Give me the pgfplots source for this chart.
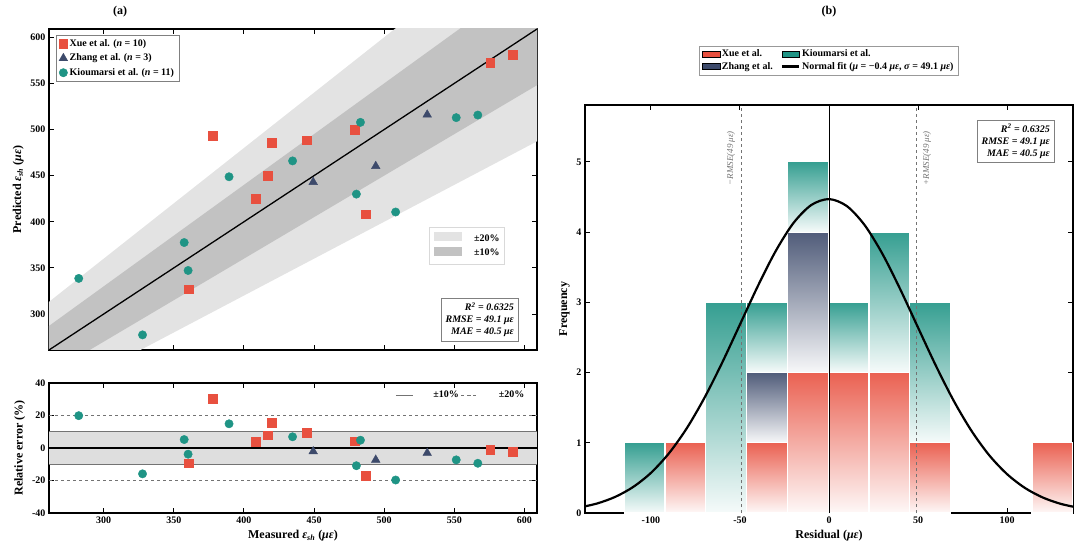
\documentclass[border=0pt]{standalone}
\usepackage{pgfplots}
\pgfplotsset{compat=1.18}
\usepackage{fontspec}
\setmainfont{Liberation Serif}
\definecolor{cx}{HTML}{E8503F}
\definecolor{cz}{HTML}{3D4A6B}
\definecolor{ck}{HTML}{1F9485}
\newcommand{\gbar}[5]{\addplot[draw=white, line width=1.2pt, top color=#5!90, bottom color=#5!4, forget plot] coordinates {(#1,#3) (#1,#4) (#2,#4) (#2,#3)} -- cycle;}
\pgfplotsset{base/.style={scale only axis, axis line style={line width=1.3pt}, tick align=inside,
  major tick length=5pt, tick style={black, line width=1pt}, ticklabel style={font=\fontsize{10}{12}\selectfont\bfseries},
  /pgf/number format/assume math mode=true, label style={font=\fontsize{12}{14}\selectfont\bfseries}}}
\begin{document}
\begin{tikzpicture}
\path (0pt,0pt) rectangle (1080pt,555pt);
\node[font=\fontsize{12}{14}\selectfont\bfseries] at (120pt,543pt) {(a)};
\node[font=\fontsize{12}{14}\selectfont\bfseries] at (829pt,543pt) {(b)};
% top-left
\begin{axis}[base, at={(49pt,205pt)}, anchor=south west, width=488pt, height=321pt, xmin=261, xmax=609, ymin=261, ymax=609,
  xtick={300,350,...,600}, xticklabels={}, ytick={300,350,...,600},
  ylabel={Predicted \textit{ε}\textsubscript{\textit{sh}} (\textit{με})},
  legend style={at={(0.014,0.98)}, anchor=north west, draw=gray, font=\fontsize{10}{12}\selectfont\bfseries, row sep=2pt, cells={anchor=west}}]
\addplot[draw=none, fill=black!11, forget plot] coordinates {(261,208.8) (609,487.2) (609,730.8) (261,313.2)} -- cycle;
\addplot[draw=none, fill=black!24, forget plot] coordinates {(261,234.9) (609,548.1) (609,669.9) (261,287.1)} -- cycle;
\addplot[black, line width=1.3pt, forget plot] coordinates {(261,261) (609,609)};
\addplot[only marks, mark=square*, mark size=4.3pt, color=cx] coordinates {
(591.7,581.3) (575.6,572.6) (479,499.9) (444.7,488.4) (419.8,485.5) (377.8,493.4) (416.9,450.2) (408.6,425.3) (486.9,408.1) (360.7,327.0)};
\addplot[only marks, mark=triangle*, mark size=5pt, color=cz] coordinates {(449.4,443.0) (494,460.3) (530.7,516.1)};
\addplot[only marks, mark=*, mark size=4.2pt, color=ck] coordinates {
(282.2,338.6) (327.7,277.4) (357.4,377.5) (360.2,347.2) (389.4,448.8) (434.7,466.0) (480.2,430.0) (483.1,507.8) (508.2,410.6) (551.4,512.9) (566.8,515.7)};
\legend{Xue et al. (\textit{n} = 10), Zhang et al. (\textit{n} = 3), Kioumarsi et al. (\textit{n} = 11)}
\node[draw=black!15, fill=white, anchor=north east, inner sep=5pt, font=\fontsize{10}{12}\selectfont\bfseries] at (rel axis cs:0.934,0.383)
 {\begin{tabular}{@{}l@{\hspace{12pt}}l@{}}\textcolor{black!11}{\rule{28pt}{9pt}} & ±20\%\\[2pt] \textcolor{black!24}{\rule{28pt}{9pt}} & ±10\%\end{tabular}};
\node[draw=gray, fill=white, anchor=south east, align=right, font=\fontsize{10}{12}\selectfont\bfseries\itshape, inner sep=4pt] at (rel axis cs:0.961,0.028)
 {R\textsuperscript{2} = 0.6325\\RMSE = 49.1 με\\MAE = 40.5 με};
\end{axis}
% bottom-left
\begin{axis}[base, at={(49pt,42pt)}, anchor=south west, width=488pt, height=130pt, xmin=261, xmax=609, ymin=-40, ymax=40,
  xtick={300,350,...,600}, ytick={-40,-20,...,40},
  xlabel={Measured \textit{ε}\textsubscript{\textit{sh}} (\textit{με})},
  ylabel={Relative error (\%)},
  legend columns=2, legend style={at={(0.985,0.97)}, anchor=north east, draw=none, fill=none, font=\fontsize{10}{12}\selectfont\bfseries, /tikz/every odd column/.append style={column sep=18pt}}]
\addplot[draw=none, fill=black!13, forget plot] coordinates {(261,-10) (609,-10) (609,10) (261,10)} -- cycle;
\addplot[black!55, line width=1pt] coordinates {(261,10) (609,10)};
\addplot[black!55, line width=1pt, dashed, forget plot] coordinates {(261,-20) (609,-20)};
\addplot[black!55, line width=1pt, dashed] coordinates {(261,20) (609,20)};
\addplot[black!55, line width=1pt, forget plot] coordinates {(261,-10) (609,-10)};
\addplot[black, line width=1.3pt, forget plot] coordinates {(261,0) (609,0)};
\addplot[only marks, mark=square*, mark size=4.3pt, color=cx, forget plot] coordinates {
(591.7,-2.3) (575.6,-1.0) (479,4.2) (444.7,9.6) (419.8,15.7) (377.8,30.4) (416.9,7.8) (408.6,4.0) (486.9,-17.0) (360.7,-9.4)};
\addplot[only marks, mark=triangle*, mark size=5pt, color=cz, forget plot] coordinates {(449.4,-2.1) (494,-7.3) (530.7,-3.1)};
\addplot[only marks, mark=*, mark size=4.2pt, color=ck, forget plot] coordinates {
(282.2,19.9) (327.7,-15.9) (357.4,5.2) (360.2,-3.8) (389.4,14.9) (434.7,6.9) (480.2,-10.9) (483.1,4.8) (508.2,-19.7) (551.4,-7.3) (566.8,-9.4)};
\legend{±10\%, ±20\%}
\end{axis}
% right
\begin{axis}[base, at={(585pt,42pt)}, anchor=south west, width=488pt, height=408pt, xmin=-137, xmax=137, ymin=0, ymax=5.81,
  xtick={-100,-50,0,50,100}, ytick={0,1,...,5},
  xlabel={Residual (\textit{με})}, ylabel={Frequency},
  legend columns=2, legend style={at={(0.5,1.0735)}, anchor=south, draw=black!40, font=\fontsize{10}{12}\selectfont\bfseries, cells={anchor=west},
   /tikz/every even column/.append style={column sep=6pt}, /tikz/column 2/.style={column sep=150pt}}]
\addlegendimage{area legend, fill=cx, draw=none}
\addlegendimage{area legend, fill=ck, draw=none}
\addlegendimage{area legend, fill=cz, draw=none}
\addlegendimage{black, line width=2.2pt}
\gbar{-115.0}{-92.1}{0}{1}{ck}
\gbar{-92.1}{-69.2}{0}{1}{cx}
\gbar{-69.2}{-46.3}{0}{3}{ck}
\gbar{-46.3}{-23.4}{0}{1}{cx}
\gbar{-46.3}{-23.4}{1}{2}{cz}
\gbar{-46.3}{-23.4}{2}{3}{ck}
\gbar{-23.4}{-0.5}{0}{2}{cx}
\gbar{-23.4}{-0.5}{2}{4}{cz}
\gbar{-23.4}{-0.5}{4}{5}{ck}
\gbar{-0.5}{22.4}{0}{2}{cx}
\gbar{-0.5}{22.4}{2}{3}{ck}
\gbar{22.4}{45.3}{0}{2}{cx}
\gbar{22.4}{45.3}{2}{4}{ck}
\gbar{45.3}{68.2}{0}{1}{cx}
\gbar{45.3}{68.2}{1}{3}{ck}
\gbar{114.0}{136.9}{0}{1}{cx}
\addplot[black!55, line width=1pt, dashed, forget plot] coordinates {(-49.1,0) (-49.1,5.81)};
\addplot[black!55, line width=1pt, dashed, forget plot] coordinates {(49.1,0) (49.1,5.81)};
\addplot[black, line width=1pt, forget plot] coordinates {(0,0) (0,5.81)};
\addplot[black, line width=2.2pt, smooth, forget plot] coordinates {
(-140,0.0785) (-130,0.137) (-120,0.230) (-110,0.370) (-100,0.571) (-90,0.846) (-80,1.201) (-70,1.637) (-60,2.140) (-50,2.684) (-40,3.229) (-30,3.727) (-20,4.128) (-10,4.385) (0,4.470) (10,4.371) (20,4.100) (30,3.690) (40,3.186) (50,2.640) (60,2.098) (70,1.599) (80,1.170) (90,0.821) (100,0.553) (110,0.357) (120,0.221) (130,0.131) (140,0.075)};
\legend{Xue et al., Kioumarsi et al., Zhang et al., {Normal fit (\textit{μ} = −0.4 \textit{με}, \textit{σ} = 49.1 \textit{με})}}
\node[rotate=90, text=black!55, font=\fontsize{9}{11}\selectfont\itshape] at (axis cs:-55,5.05) {−RMSE(49 με)};
\node[rotate=90, text=black!55, font=\fontsize{9}{11}\selectfont\itshape] at (axis cs:55,5.05) {+RMSE(49 με)};
\node[draw=gray, fill=white, anchor=north east, align=right, font=\fontsize{10}{12}\selectfont\bfseries\itshape, inner sep=4pt] at (rel axis cs:0.961,0.963)
 {R\textsuperscript{2} = 0.6325\\RMSE = 49.1 με\\MAE = 40.5 με};
\end{axis}
\end{tikzpicture}
\end{document}
